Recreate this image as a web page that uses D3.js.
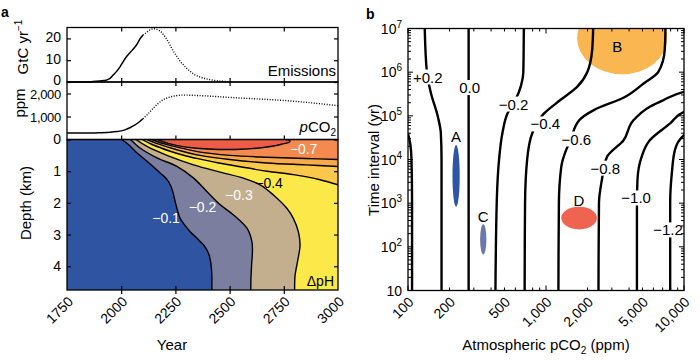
<!DOCTYPE html>
<html>
<head>
<meta charset="utf-8">
<script src="https://cdn.jsdelivr.net/npm/d3@7"></script>
<style>
  body { margin: 0; background: #fff; }
  text { font-family: "Liberation Sans", Arial, sans-serif; }
</style>
</head>
<body>
<div id="chart"></div>
<script>
// ---- panel a data ----
var yearTicks = [1750, 2000, 2250, 2500, 2750, 3000];
var emisTicks = [0, 10, 20];
var pco2Ticks = [1000, 2000];
var depthTicks = [0, 1, 2, 3, 4];

// emissions (GtC/yr), solid = record, dotted = scenario
var emisObsYears = [1750, 1850, 1870, 1900, 1930, 1942, 1950, 1965, 1980, 1996, 2010, 2026, 2050, 2072, 2088, 2100];
var emisObs      = [0, 0, 0.2, 0.5, 0.8, 1.3, 1.8, 3.4, 5, 7.2, 9.5, 11.8, 14.5, 17.2, 20, 21.5];
var emisScnYears = [2100, 2119, 2135, 2149, 2165, 2180, 2195, 2211, 2226, 2241, 2257, 2272, 2295, 2318, 2340, 2364, 2395, 2426, 2465, 2510];
var emisScn      = [21.5, 22.9, 24, 24.4, 24.1, 23.3, 21.7, 19.5, 16.8, 14.1, 11.7, 9.5, 7, 4.9, 3.3, 2.3, 1.4, 0.8, 0.35, 0.1];

// atmospheric pCO2 (ppm)
var pco2ObsYears = [1750, 1850, 1900, 1950, 1980, 2000, 2020, 2040, 2060, 2080, 2100];
var pco2Obs      = [280, 285, 295, 315, 345, 375, 430, 510, 610, 740, 900];
var pco2ScnYears = [2100, 2120, 2149, 2170, 2195, 2220, 2245, 2287, 2350, 2420, 2515, 2640, 2746, 2870, 3000];
var pco2Scn      = [900, 1080, 1370, 1560, 1735, 1830, 1890, 1930, 1915, 1880, 1820, 1760, 1700, 1600, 1470];

// delta pH contours [year, depth km]
var phLevels = [-0.1, -0.2, -0.3, -0.4, -0.5, -0.6, -0.7];
var ph01 = [[2003,0],[2040,0.2],[2072,0.42],[2130,0.75],[2180,1.06],[2210,1.25],[2228,1.45],[2240,1.7],[2249,1.96],[2260,2.25],[2272,2.49],[2295,2.72],[2318,2.91],[2350,3.12],[2380,3.33],[2400,3.55],[2410,3.76],[2416,4.05],[2418,4.29],[2418,4.8]];
var ph02 = [[2043,0],[2085,0.26],[2165,0.58],[2257,0.85],[2334,1.22],[2395,1.64],[2457,2.06],[2518,2.38],[2580,2.8],[2603,3.23],[2605,3.6],[2602,3.9],[2598,4.5],[2598,4.8]];
var ph03 = [[2068,0],[2119,0.22],[2211,0.5],[2334,0.8],[2457,1.03],[2564,1.22],[2641,1.43],[2702,1.75],[2764,2.17],[2794,2.49],[2817,2.91],[2825,3.33],[2813,3.86],[2802,4.29],[2800,4.8]];
var ph04 = [[2096,0],[2140,0.15],[2226,0.37],[2300,0.52],[2364,0.62],[2450,0.74],[2550,0.86],[2672,1.0],[2794,1.11],[2917,1.27],[3000,1.43]];
var ph05 = [[2119,0],[2170,0.14],[2260,0.33],[2364,0.5],[2500,0.63],[2672,0.74],[2850,0.8],[3000,0.85]];
var ph06 = [[2142,0],[2200,0.14],[2290,0.29],[2364,0.4],[2500,0.5],[2672,0.56],[2850,0.6],[3000,0.63]];
var ph07 = [[2168,0],[2225,0.14],[2300,0.24],[2400,0.3],[2550,0.31],[2680,0.23],[2740,0.15],[2778,0.07],[2775,0.02],[2758,0]];
var phLabels = [
  {text: "\u22120.1", year: 2207, depth: 2.48, dark: false},
  {text: "\u22120.2", year: 2375, depth: 2.13, dark: false},
  {text: "\u22120.3", year: 2543, depth: 1.75, dark: false},
  {text: "\u22120.4", year: 2682, depth: 1.37, dark: true},
  {text: "\u22120.7", year: 2841, depth: 0.30, dark: false}
];

// ---- panel b data ----
var pco2AxisTicks = [100, 200, 500, 1000, 2000, 5000, 10000];
var timeAxisTicks = [10, 1e2, 1e3, 1e4, 1e5, 1e6, 1e7];
// contour lines [pCO2 ppm, time interval yr], top to bottom
var cP04 = [[100,40000],[104,22000],[106,10000],[107,1000],[107,8]];
var cP02 = [[132,1.2e7],[137,1e6],[147,320000],[164,1e5],[173,40000],[175,10000],[175,1000],[175,8]];
var cZero = [[275,1.2e7],[275,8]];
var cM02 = [[691,1.2e7],[685,1e6],[660,500000],[600,230000],[525,112000],[483,40000],[457,10000],[440,1150],[430,8]];
var cM04 = [[2200,1.2e7],[2160,3.2e6],[1990,1e6],[1680,460000],[1270,230000],[965,112000],[795,40000],[730,10000],[705,1000],[700,8]];
var cM06 = [[7350,1.2e7],[7250,3.2e6],[6500,1e6],[5100,550000],[3730,270000],[2220,135000],[1740,79000],[1500,27000],[1400,16600],[1290,6800],[1240,1000],[1230,8]];
var cM08 = [[11000,380000],[10000,355000],[7100,230000],[5650,162000],[4300,79000],[3650,27700],[2770,11500],[2540,3400],[2420,1000],[2400,8]];
var cM10 = [[11000,135000],[10000,123000],[7940,67000],[5650,27700],[4930,11500],[4600,3400],[4560,1000],[4560,8]];
var cM12 = [[11000,39000],[10000,36000],[8600,16600],[8160,4800],[7940,1000],[7940,8]];
var contourLabels = [
  {text: "+0.2", pco2: 139, years: 770000},
  {text: "0.0", pco2: 280, years: 442000},
  {text: "\u22120.2", pco2: 583, years: 185000},
  {text: "\u22120.4", pco2: 990, years: 65000},
  {text: "\u22120.6", pco2: 1660, years: 29300},
  {text: "\u22120.8", pco2: 2690, years: 6300},
  {text: "\u22121.0", pco2: 4500, years: 1310},
  {text: "\u22121.2", pco2: 7650, years: 243}
];
// events: pCO2 range and time-interval range
var eventNames = ["A", "B", "C", "D"];
var eventPco2 = [[210, 237], [1680, 7550], [333, 370], [1290, 2340]];
var eventYears = [[830, 21400], [900000, 4e7], [67, 330], [250, 830]];
var eventLabelAt = [[223, 32600], [3280, 3.8e6], [351, 490], [1730, 1170]];

var phColors = ["#2e54a2", "#7b7e9f", "#c3ae8e", "#fde84a", "#fcc84b", "#f8a94c", "#f48a4f", "#ee5b47"];
var eventColors = ["#2f56a5", "#f9b651", "#6c78ab", "#ef6450"];

var svg = d3.select("#chart").append("svg")
  .attr("width", 700)
  .attr("height", 361);

// ================= panel a =================
var xa = d3.scaleLinear().domain([1750, 3000]).range([67, 338]);
var yE = d3.scaleLinear().domain([0, 25]).range([82, 27.5]);
var yP = d3.scaleLinear().domain([0, 2500]).range([139.5, 82]);
var yD = d3.scaleLinear().domain([0, 4.75]).range([139.5, 290]);

var ga = svg.append("g");

// emissions
var lineE = d3.line().x(function(d) { return xa(d[0]); }).y(function(d) { return yE(d[1]); }).curve(d3.curveMonotoneX);
ga.append("path").attr("d", lineE(d3.zip(emisObsYears, emisObs)))
  .attr("fill", "none").attr("stroke", "#000").attr("stroke-width", 1.5);
ga.append("path").attr("d", lineE(d3.zip(emisScnYears, emisScn)))
  .attr("fill", "none").attr("stroke", "#000").attr("stroke-width", 1.4).attr("stroke-dasharray", "1,1.6");

// pCO2
var lineP = d3.line().x(function(d) { return xa(d[0]); }).y(function(d) { return yP(d[1]); }).curve(d3.curveMonotoneX);
ga.append("path").attr("d", lineP(d3.zip(pco2ObsYears, pco2Obs)))
  .attr("fill", "none").attr("stroke", "#000").attr("stroke-width", 1.5);
ga.append("path").attr("d", lineP(d3.zip(pco2ScnYears, pco2Scn)))
  .attr("fill", "none").attr("stroke", "#000").attr("stroke-width", 1.4).attr("stroke-dasharray", "1,1.6");

// contour map
svg.append("clipPath").attr("id", "clipA").append("rect")
  .attr("x", xa(1750)).attr("y", yD(0)).attr("width", xa(3000) - xa(1750)).attr("height", yD(4.75) - yD(0));
var gc = ga.append("g").attr("clip-path", "url(#clipA)");
gc.append("rect")
  .attr("x", xa(1750)).attr("y", yD(0)).attr("width", xa(3000) - xa(1750)).attr("height", yD(4.75) - yD(0))
  .attr("fill", phColors[0]);

var lineD = d3.line().x(function(d) { return xa(d[0]); }).y(function(d) { return yD(d[1]); }).curve(d3.curveCatmullRom);
var phLines = [ph01, ph02, ph03, ph04, ph05, ph06, ph07];
phLines.forEach(function(pts, i) {
  var last = pts[pts.length - 1];
  var close = "";
  if (last[1] >= 4.75) {
    close = "L" + xa(3010) + "," + yD(4.8) + "L" + xa(3010) + "," + yD(-0.1) + "L" + xa(pts[0][0]) + "," + yD(-0.1) + "Z";
  } else if (last[0] >= 3000) {
    close = "L" + xa(3010) + "," + yD(last[1]) + "L" + xa(3010) + "," + yD(-0.1) + "L" + xa(pts[0][0]) + "," + yD(-0.1) + "Z";
  } else {
    close = "L" + xa(last[0]) + "," + yD(-0.1) + "L" + xa(pts[0][0]) + "," + yD(-0.1) + "Z";
  }
  gc.append("path").attr("d", lineD(pts) + close).attr("fill", phColors[i + 1]);
});
phLines.forEach(function(pts) {
  gc.append("path").attr("d", lineD(pts)).attr("fill", "none").attr("stroke", "#000").attr("stroke-width", 1.4);
});

gc.selectAll(".phlab").data(phLabels).enter().append("text")
  .attr("class", "phlab")
  .attr("x", function(d) { return xa(d.year); })
  .attr("y", function(d) { return yD(d.depth); })
  .attr("dy", "0.36em")
  .attr("text-anchor", "middle")
  .attr("font-size", 14)
  .attr("fill", function(d) { return d.dark ? "#000" : "#fff"; })
  .text(function(d) { return d.text; });

ga.append("text").attr("x", 334).attr("y", yD(4.47)).attr("dy", "0.36em")
  .attr("text-anchor", "end").attr("font-size", 14).text("\u0394pH");

// frames
[[yE.range()[1], yE.range()[0]], [yP.range()[1], yP.range()[0]], [yD.range()[0], yD.range()[1]]].forEach(function(r) {
  ga.append("rect").attr("x", xa(1750)).attr("y", r[0]).attr("width", xa(3000) - xa(1750)).attr("height", r[1] - r[0])
    .attr("fill", "none").attr("stroke", "#000").attr("stroke-width", 1.3);
});

// inward ticks
function tickStyle(g) {
  g.select(".domain").remove();
  g.selectAll("line").attr("stroke", "#000").attr("stroke-width", 1.2);
  g.attr("font-size", 14).attr("font-family", "Liberation Sans, Arial, sans-serif");
}
[[yE, 82], [yP, 139.5], [yD, 290]].forEach(function(p) {
  var ax = ga.append("g").attr("transform", "translate(0," + p[1] + ")")
    .call(d3.axisBottom(xa).tickValues(yearTicks.slice(1, -1)).tickSize(-4).tickFormat(""));
  tickStyle(ax);
  var top = ga.append("g").attr("transform", "translate(0," + p[0].range()[1] + ")")
    .call(d3.axisTop(xa).tickValues(yearTicks.slice(1, -1)).tickSize(-4).tickFormat(""));
  tickStyle(top);
});

var axYear = ga.append("g").attr("transform", "translate(0,290)")
  .call(d3.axisBottom(xa).tickValues(yearTicks).tickSize(0).tickFormat(d3.format("d")));
tickStyle(axYear);
axYear.selectAll("text")
  .attr("x", 0).attr("y", 0).attr("dy", "0.35em")
  .attr("text-anchor", "end")
  .attr("transform", "translate(3,9) rotate(-45)");

var axE = ga.append("g").attr("transform", "translate(" + xa(1750) + ",0)")
  .call(d3.axisLeft(yE).tickValues(emisTicks).tickSize(-4).tickPadding(6));
tickStyle(axE);
axE.selectAll("text").attr("dy", "0.2em");
var axP = ga.append("g").attr("transform", "translate(" + xa(1750) + ",0)")
  .call(d3.axisLeft(yP).tickValues(pco2Ticks).tickSize(-4).tickPadding(6).tickFormat(d3.format(",")));
tickStyle(axP);
axP.attr("font-size", 13).attr("letter-spacing", "-0.3");
axP.selectAll("text").attr("dy", "0.4em");
var axD = ga.append("g").attr("transform", "translate(" + xa(1750) + ",0)")
  .call(d3.axisLeft(yD).tickValues(depthTicks).tickSize(-4).tickPadding(6).tickFormat(d3.format("d")));
tickStyle(axD);
[[yE, emisTicks], [yP, pco2Ticks], [yD, depthTicks]].forEach(function(p) {
  var r = ga.append("g").attr("transform", "translate(" + xa(3000) + ",0)")
    .call(d3.axisRight(p[0]).tickValues(p[1]).tickSize(-4).tickFormat(""));
  tickStyle(r);
});

// panel a titles
ga.append("text").attr("x", 1).attr("y", 17).attr("font-size", 14).attr("font-weight", "bold").text("a");
var tE = ga.append("text").attr("transform", "translate(28,47) rotate(-90)").attr("text-anchor", "middle").attr("font-size", 15);
tE.append("tspan").text("GtC yr");
tE.append("tspan").attr("dy", -6).attr("font-size", 10).text("\u22121");
ga.append("text").attr("transform", "translate(25,103) rotate(-90)").attr("text-anchor", "middle").attr("font-size", 15).text("ppm");
ga.append("text").attr("transform", "translate(31,203) rotate(-90)").attr("text-anchor", "middle").attr("font-size", 15).text("Depth (km)");
ga.append("text").attr("x", 172).attr("y", 350).attr("text-anchor", "middle").attr("font-size", 15).text("Year");
ga.append("text").attr("x", 336).attr("y", 76).attr("text-anchor", "end").attr("font-size", 15).text("Emissions");
var tP = ga.append("text").attr("x", 336).attr("y", 132).attr("text-anchor", "end").attr("font-size", 15);
tP.append("tspan").attr("font-style", "italic").text("p");
tP.append("tspan").text("CO");
tP.append("tspan").attr("dy", 4).attr("font-size", 10).text("2");

// ================= panel b =================
var bx = d3.scaleLog().domain([100, 10000]).range([408, 684]);
var by = d3.scaleLog().domain([10, 1e7]).range([290.5, 28.5]);
var gb = svg.append("g");

svg.append("clipPath").attr("id", "clipB").append("rect")
  .attr("x", bx(100)).attr("y", by(1e7)).attr("width", bx(10000) - bx(100)).attr("height", by(10) - by(1e7));
var gbc = gb.append("g").attr("clip-path", "url(#clipB)");

// events
eventNames.forEach(function(name, i) {
  var x0 = bx(eventPco2[i][0]), x1 = bx(eventPco2[i][1]);
  var y0 = by(eventYears[i][0]), y1 = by(eventYears[i][1]);
  gbc.append("ellipse")
    .attr("cx", (x0 + x1) / 2).attr("cy", (y0 + y1) / 2)
    .attr("rx", Math.abs(x1 - x0) / 2).attr("ry", Math.abs(y1 - y0) / 2)
    .attr("fill", eventColors[i]);
});

var lineB = d3.line().x(function(d) { return bx(d[0]); }).y(function(d) { return by(d[1]); }).curve(d3.curveMonotoneY);
[cP04, cP02, cZero, cM02, cM04, cM06, cM08, cM10, cM12].forEach(function(pts) {
  gbc.append("path").attr("d", lineB(pts)).attr("fill", "none").attr("stroke", "#000").attr("stroke-width", 2.4);
});

eventNames.forEach(function(name, i) {
  gbc.append("text").attr("x", bx(eventLabelAt[i][0])).attr("y", by(eventLabelAt[i][1])).attr("dy", "0.36em")
    .attr("text-anchor", "middle").attr("font-size", 15).text(name);
});

contourLabels.forEach(function(d) {
  var lg = gbc.append("g");
  var t = lg.append("text").attr("x", bx(d.pco2)).attr("y", by(d.years)).attr("dy", "0.36em")
    .attr("text-anchor", "middle").attr("font-size", 15).text(d.text);
  var bb = t.node().getBBox();
  lg.insert("rect", "text").attr("x", bb.x - 1).attr("y", bb.y + 1).attr("width", bb.width + 2).attr("height", bb.height - 2)
    .attr("fill", "#fff");
});

gb.append("rect").attr("x", bx(100)).attr("y", by(1e7)).attr("width", bx(10000) - bx(100)).attr("height", by(10) - by(1e7))
  .attr("fill", "none").attr("stroke", "#000").attr("stroke-width", 1.3);

// log ticks (inward, all sides)
function logTicks(lo, hi) {
  var out = [];
  for (var e = Math.round(Math.log10(lo)); e < Math.round(Math.log10(hi)); e++) {
    for (var m = 1; m < 10; m++) out.push(m * Math.pow(10, e));
  }
  out.push(hi);
  return out;
}
function isMajor(v) { return Math.abs(Math.log10(v) - Math.round(Math.log10(v))) < 1e-9; }
var gt = gb.append("g").attr("stroke", "#000").attr("stroke-width", 1);
logTicks(100, 10000).forEach(function(v) {
  var L = isMajor(v) ? 5 : 3;
  gt.append("line").attr("x1", bx(v)).attr("x2", bx(v)).attr("y1", by(10)).attr("y2", by(10) - L);
  gt.append("line").attr("x1", bx(v)).attr("x2", bx(v)).attr("y1", by(1e7)).attr("y2", by(1e7) + L);
});
logTicks(10, 1e7).forEach(function(v) {
  var L = isMajor(v) ? 5 : 3;
  gt.append("line").attr("y1", by(v)).attr("y2", by(v)).attr("x1", bx(100)).attr("x2", bx(100) + L);
  gt.append("line").attr("y1", by(v)).attr("y2", by(v)).attr("x1", bx(10000)).attr("x2", bx(10000) - L);
});

// tick labels
gb.selectAll(".xl").data(pco2AxisTicks).enter().append("text")
  .attr("class", "xl")
  .attr("text-anchor", "end").attr("font-size", 14).attr("dy", "0.35em")
  .attr("transform", function(d) { return "translate(" + (bx(d) + 3) + "," + (by(10) + 9) + ") rotate(-45)"; })
  .text(function(d) { return d3.format(",")(d); });

timeAxisTicks.forEach(function(v) {
  var e = Math.round(Math.log10(v));
  var t = gb.append("text").attr("x", bx(100) - 6).attr("y", by(v)).attr("dy", "0.36em")
    .attr("text-anchor", "end").attr("font-size", 14);
  if (e === 1) {
    t.text("10");
  } else {
    t.append("tspan").text("10");
    t.append("tspan").attr("dy", -6).attr("font-size", 10).text(e);
  }
});

gb.append("text").attr("x", 366).attr("y", 19).attr("font-size", 14).attr("font-weight", "bold").text("b");
gb.append("text").attr("transform", "translate(379,160) rotate(-90)").attr("text-anchor", "middle").attr("font-size", 15)
  .text("Time interval (yr)");
var tX = gb.append("text").attr("x", 546).attr("y", 350).attr("text-anchor", "middle").attr("font-size", 15);
tX.append("tspan").text("Atmospheric pCO");
tX.append("tspan").attr("dy", 4).attr("font-size", 10).text("2");
tX.append("tspan").attr("dy", -4).text(" (ppm)");
</script>
</body>
</html>
